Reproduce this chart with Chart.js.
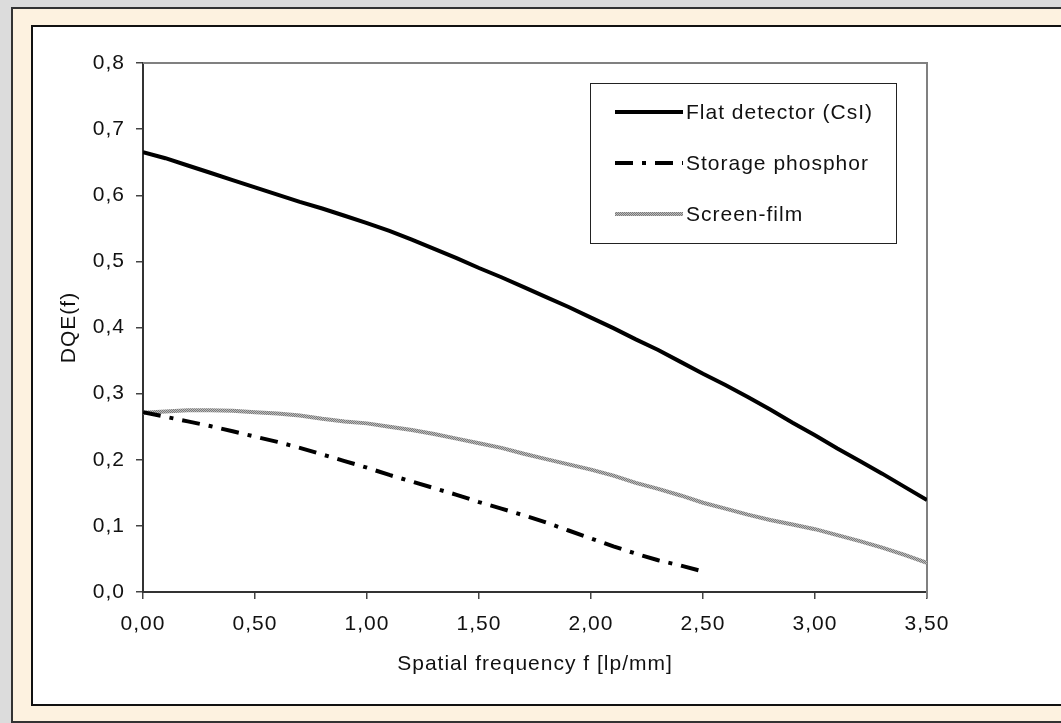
<!DOCTYPE html>
<html>
<head>
<meta charset="utf-8">
<script src="https://cdn.jsdelivr.net/npm/chart.js@4"></script>
<style>
  html, body { margin: 0; padding: 0; background: #dcdcdc; width: 1061px; height: 723px; overflow: hidden; }
  .outer { position: absolute; left: 11px; top: 7px; width: 1120px; height: 716px; box-sizing: border-box;
           border: 2px solid #333; background: #fdf2e0; }
  .inner { position: absolute; left: 31px; top: 25px; width: 1100px; height: 681px; box-sizing: border-box;
           border: 2px solid #111; background: #ffffff; }
  canvas { position: absolute; left: 0; top: 0; }
</style>
</head>
<body>
<div class="outer"></div>
<div class="inner"></div>
<canvas id="c" width="1061" height="723"></canvas>
<script>
// ---- data ----
const freq = [0.0,0.1,0.2,0.3,0.4,0.5,0.6,0.7,0.8,0.9,1.0,1.1,1.2,1.3,1.4,1.5,1.6,1.7,1.8,1.9,
              2.0,2.1,2.2,2.3,2.4,2.5,2.6,2.7,2.8,2.9,3.0,3.1,3.2,3.3,3.4,3.5];
const flatDetector = [0.665,0.656,0.645,0.634,0.623,0.612,0.601,0.590,0.580,0.569,
                      0.558,0.546,0.533,0.519,0.505,0.490,0.476,0.461,0.446,0.431,
                      0.415,0.399,0.382,0.366,0.348,0.330,0.313,0.295,0.276,0.256,
                      0.237,0.217,0.198,0.179,0.159,0.139];
const storagePhosphor = [0.272,0.265,0.258,0.251,0.243,0.235,0.227,0.218,0.208,0.198,
                         0.188,0.177,0.167,0.157,0.147,0.136,0.126,0.116,0.105,0.093,
                         0.081,0.069,0.058,0.048,0.040,0.031];
const screenFilm = [0.271,0.273,0.275,0.275,0.274,0.272,0.270,0.267,0.262,0.258,
                    0.255,0.250,0.245,0.239,0.232,0.225,0.218,0.209,0.201,0.193,
                    0.185,0.176,0.165,0.156,0.146,0.135,0.126,0.117,0.109,0.102,
                    0.095,0.086,0.077,0.067,0.056,0.044];
const seriesLabels = ["Flat detector (CsI)", "Storage phosphor", "Screen-film"];
const xTicks = [0.0,0.5,1.0,1.5,2.0,2.5,3.0,3.5];
const yTicks = [0.0,0.1,0.2,0.3,0.4,0.5,0.6,0.7,0.8];
const xTitle = "Spatial frequency f [lp/mm]";
const yTitle = "DQE(f)";

// textured gray for screen-film line
function makePattern() {
  const p = document.createElement('canvas');
  p.width = 2; p.height = 2;
  const g = p.getContext('2d');
  g.fillStyle = '#bdbdbd'; g.fillRect(0,0,2,2);
  g.fillStyle = '#7a7a7a'; g.fillRect(0,0,1,1); g.fillRect(1,1,1,1);
  return g.createPattern(p, 'repeat');
}
const grayPattern = makePattern();

const pts = (xs, ys) => ys.map((y, i) => ({x: xs[i], y: y}));
const FONT_FAMILY = "'Liberation Sans', Arial, sans-serif";
const FONT = {family: FONT_FAMILY, size: 21};

const ctx0 = document.getElementById('c').getContext('2d');
ctx0.letterSpacing = '1px';

const frameAndLegend = {
  id: 'frameAndLegend',
  beforeInit(chart) { chart.ctx.letterSpacing = '1px'; },
  beforeDraw(chart) { chart.ctx.letterSpacing = '1px'; },
  beforeDatasetsDraw(chart) {
    const {ctx, chartArea: a} = chart;
    ctx.save();
    ctx.strokeStyle = '#808080';
    ctx.lineWidth = 2;
    ctx.beginPath();
    ctx.moveTo(a.left, a.top); ctx.lineTo(a.right, a.top); ctx.lineTo(a.right, a.bottom + 6);
    ctx.stroke();
    ctx.restore();
  },
  afterDraw(chart) {
    const {ctx, chartArea: a} = chart;
    const bx = a.left + 447, by = a.top + 20, bw = 306, bh = 160;
    ctx.save();
    ctx.fillStyle = '#fff';
    ctx.fillRect(bx, by, bw, bh);
    ctx.strokeStyle = '#222';
    ctx.lineWidth = 1;
    ctx.strokeRect(bx + 0.5, by + 0.5, bw, bh);
    chart.data.datasets.forEach((ds, i) => {
      const y = by + 29 + i * 51;
      ctx.save();
      ctx.strokeStyle = ds.borderColor;
      ctx.lineWidth = ds.borderWidth;
      ctx.setLineDash(ds.borderDash || []);
      ctx.beginPath();
      ctx.moveTo(bx + 25, y); ctx.lineTo(bx + 93, y);
      ctx.stroke();
      ctx.restore();
      ctx.fillStyle = '#111';
      ctx.font = "21px " + FONT_FAMILY;
      ctx.letterSpacing = '1px';
      ctx.textBaseline = 'middle';
      ctx.textAlign = 'left';
      ctx.fillText(ds.label, bx + 96, y + 1);
    });
    ctx.restore();
  }
};

new Chart(document.getElementById('c'), {
  type: 'line',
  data: {
    datasets: [
      { label: seriesLabels[0], data: pts(freq, flatDetector), borderColor: '#000', borderWidth: 4,
        pointRadius: 0, tension: 0, fill: false },
      { label: seriesLabels[1], data: pts(freq, storagePhosphor), borderColor: '#000', borderWidth: 4,
        borderDash: [18, 9, 4, 9], pointRadius: 0, tension: 0, fill: false },
      { label: seriesLabels[2], data: pts(freq, screenFilm), borderColor: grayPattern, borderWidth: 4,
        pointRadius: 0, tension: 0, fill: false }
    ]
  },
  options: {
    responsive: false,
    animation: false,
    events: [],
    layout: { padding: { left: 43, top: 63, right: 134, bottom: 31 } },
    plugins: { legend: { display: false }, tooltip: { enabled: false } },
    scales: {
      x: {
        type: 'linear', min: 0, max: 3.5,
        afterBuildTicks: s => { s.ticks = xTicks.map(v => ({value: v})); },
        afterFit: s => { s.height = 100; },
        ticks: { color: '#111', font: FONT, padding: 13, maxRotation: 0,
                 callback: v => v.toFixed(2).replace('.', ',') },
        grid: { drawOnChartArea: false, drawTicks: true, tickLength: 7, color: '#444', lineWidth: 1.5 },
        border: { display: true, color: '#333', width: 2 },
        title: { display: true, text: xTitle, color: '#111', font: FONT, padding: { top: 0, bottom: 15 } }
      },
      y: {
        type: 'linear', min: 0, max: 0.8,
        afterBuildTicks: s => { s.ticks = yTicks.map(v => ({value: v})); },
        afterFit: s => { s.width = 100; },
        ticks: { color: '#111', font: FONT, padding: 11,
                 callback: v => v.toFixed(1).replace('.', ',') },
        grid: { drawOnChartArea: false, drawTicks: true, tickLength: 7, color: '#444', lineWidth: 1.5 },
        border: { display: true, color: '#333', width: 2 },
        title: { display: true, text: yTitle, color: '#111', font: FONT, padding: { top: 14, bottom: 0 } }
      }
    }
  },
  plugins: [frameAndLegend]
});
</script>
</body>
</html>
